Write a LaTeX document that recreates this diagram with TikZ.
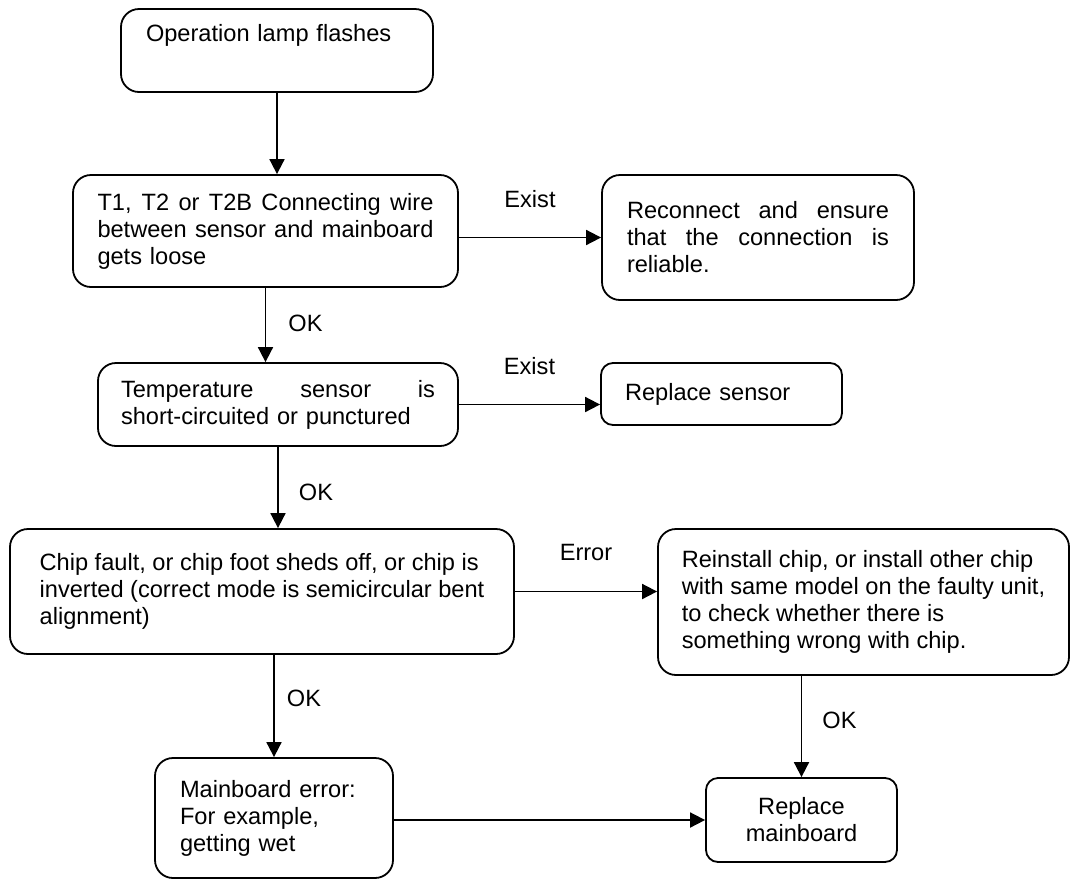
\documentclass[tikz,border=0pt]{standalone}
\usepackage{fontspec}
\setmainfont{Liberation Sans}
\usetikzlibrary{arrows.meta}
\newcommand{\spreadline}[1]{\makebox[\hsize][s]{\spaceskip=0.278em plus 1fil\relax #1}}

\begin{document}
\begin{tikzpicture}[x=1pt,y=-1pt,
  font=\fontsize{23.6}{27}\selectfont,
  box/.style={draw, line width=1.8pt, rounded corners=18pt, align=left},
  lbl/.style={inner sep=0pt},
  arr/.style={line width=1.8pt, -{Triangle[length=15pt,width=15pt]}}]
\useasboundingbox (0,0) rectangle (1071,879);

% left column
\node[box, text width=262pt, inner xsep=25pt, minimum height=83pt] (start) at (277,50.5)
  {Operation lamp flashes\\\strut};
\node[box, text width=336pt, inner xsep=24.5pt, minimum height=112pt] (loose) at (265.5,231)
  {\spreadline{T1, T2 or T2B Connecting wire}\\\spreadline{between sensor and mainboard}\\gets loose};
\node[box, text width=314pt, inner xsep=23pt, minimum height=83pt] (temp) at (278,404.5)
  {\spreadline{Temperature sensor is}\\short-circuited or punctured};
\node[box, minimum width=504pt, minimum height=125pt] (chip) at (262,591.5)
  {Chip fault, or chip foot sheds off, or chip is\\inverted (correct mode is semicircular bent\\alignment)};
\node[box, text width=188pt, inner xsep=25pt, minimum height=120pt] (err) at (274,818)
  {Mainboard error:\\For example,\\getting wet};

% right column
\node[box, text width=262pt, inner xsep=25pt, minimum height=125pt] (reco) at (758,237.5)
  {\spreadline{Reconnect and ensure}\\\spreadline{that the connection is}\\reliable.};
\node[box, rounded corners=12pt, text width=193pt, inner xsep=24pt, minimum height=62pt] (sensor) at (721.5,394)
  {Replace sensor};
\node[box, minimum width=411pt, minimum height=146pt] (rein) at (863.5,602)
  {Reinstall chip, or install other chip\\with same model on the faulty unit,\\to check whether there is\\something wrong with chip.};
\node[box, rounded corners=12pt, align=center, text width=151pt, inner xsep=20pt, minimum height=84pt] (repl) at (801.5,820)
  {Replace\\mainboard};

% arrows
\draw[arr] (start.south) -- (start.south |- loose.north);
\draw[arr] (loose.south) -- (loose.south |- temp.north)
  node[lbl, midway, right=22pt, yshift=2pt] {OK};
\draw[arr] (temp.south) -- (temp.south |- chip.north)
  node[lbl, midway, right=20pt, yshift=-4.5pt] {OK};
\draw[arr] (chip.south -| err.north) -- (err.north)
  node[lbl, midway, right=12pt, yshift=8pt] {OK};
\draw[arr] (loose.east |- reco.west) -- (reco.west)
  node[lbl, midway, yshift=38pt] {Exist};
\draw[arr] (temp.east) -- (temp.east -| sensor.west)
  node[lbl, midway, yshift=38pt] {Exist};
\draw[arr] (chip.east) -- (chip.east -| rein.west)
  node[lbl, midway, yshift=39pt] {Error};
\draw[arr] (rein.south -| repl.north) -- (repl.north)
  node[lbl, midway, right=20pt, yshift=6.5pt] {OK};
\draw[arr] (err.east |- repl.west) -- (repl.west);
\end{tikzpicture}
\end{document}
